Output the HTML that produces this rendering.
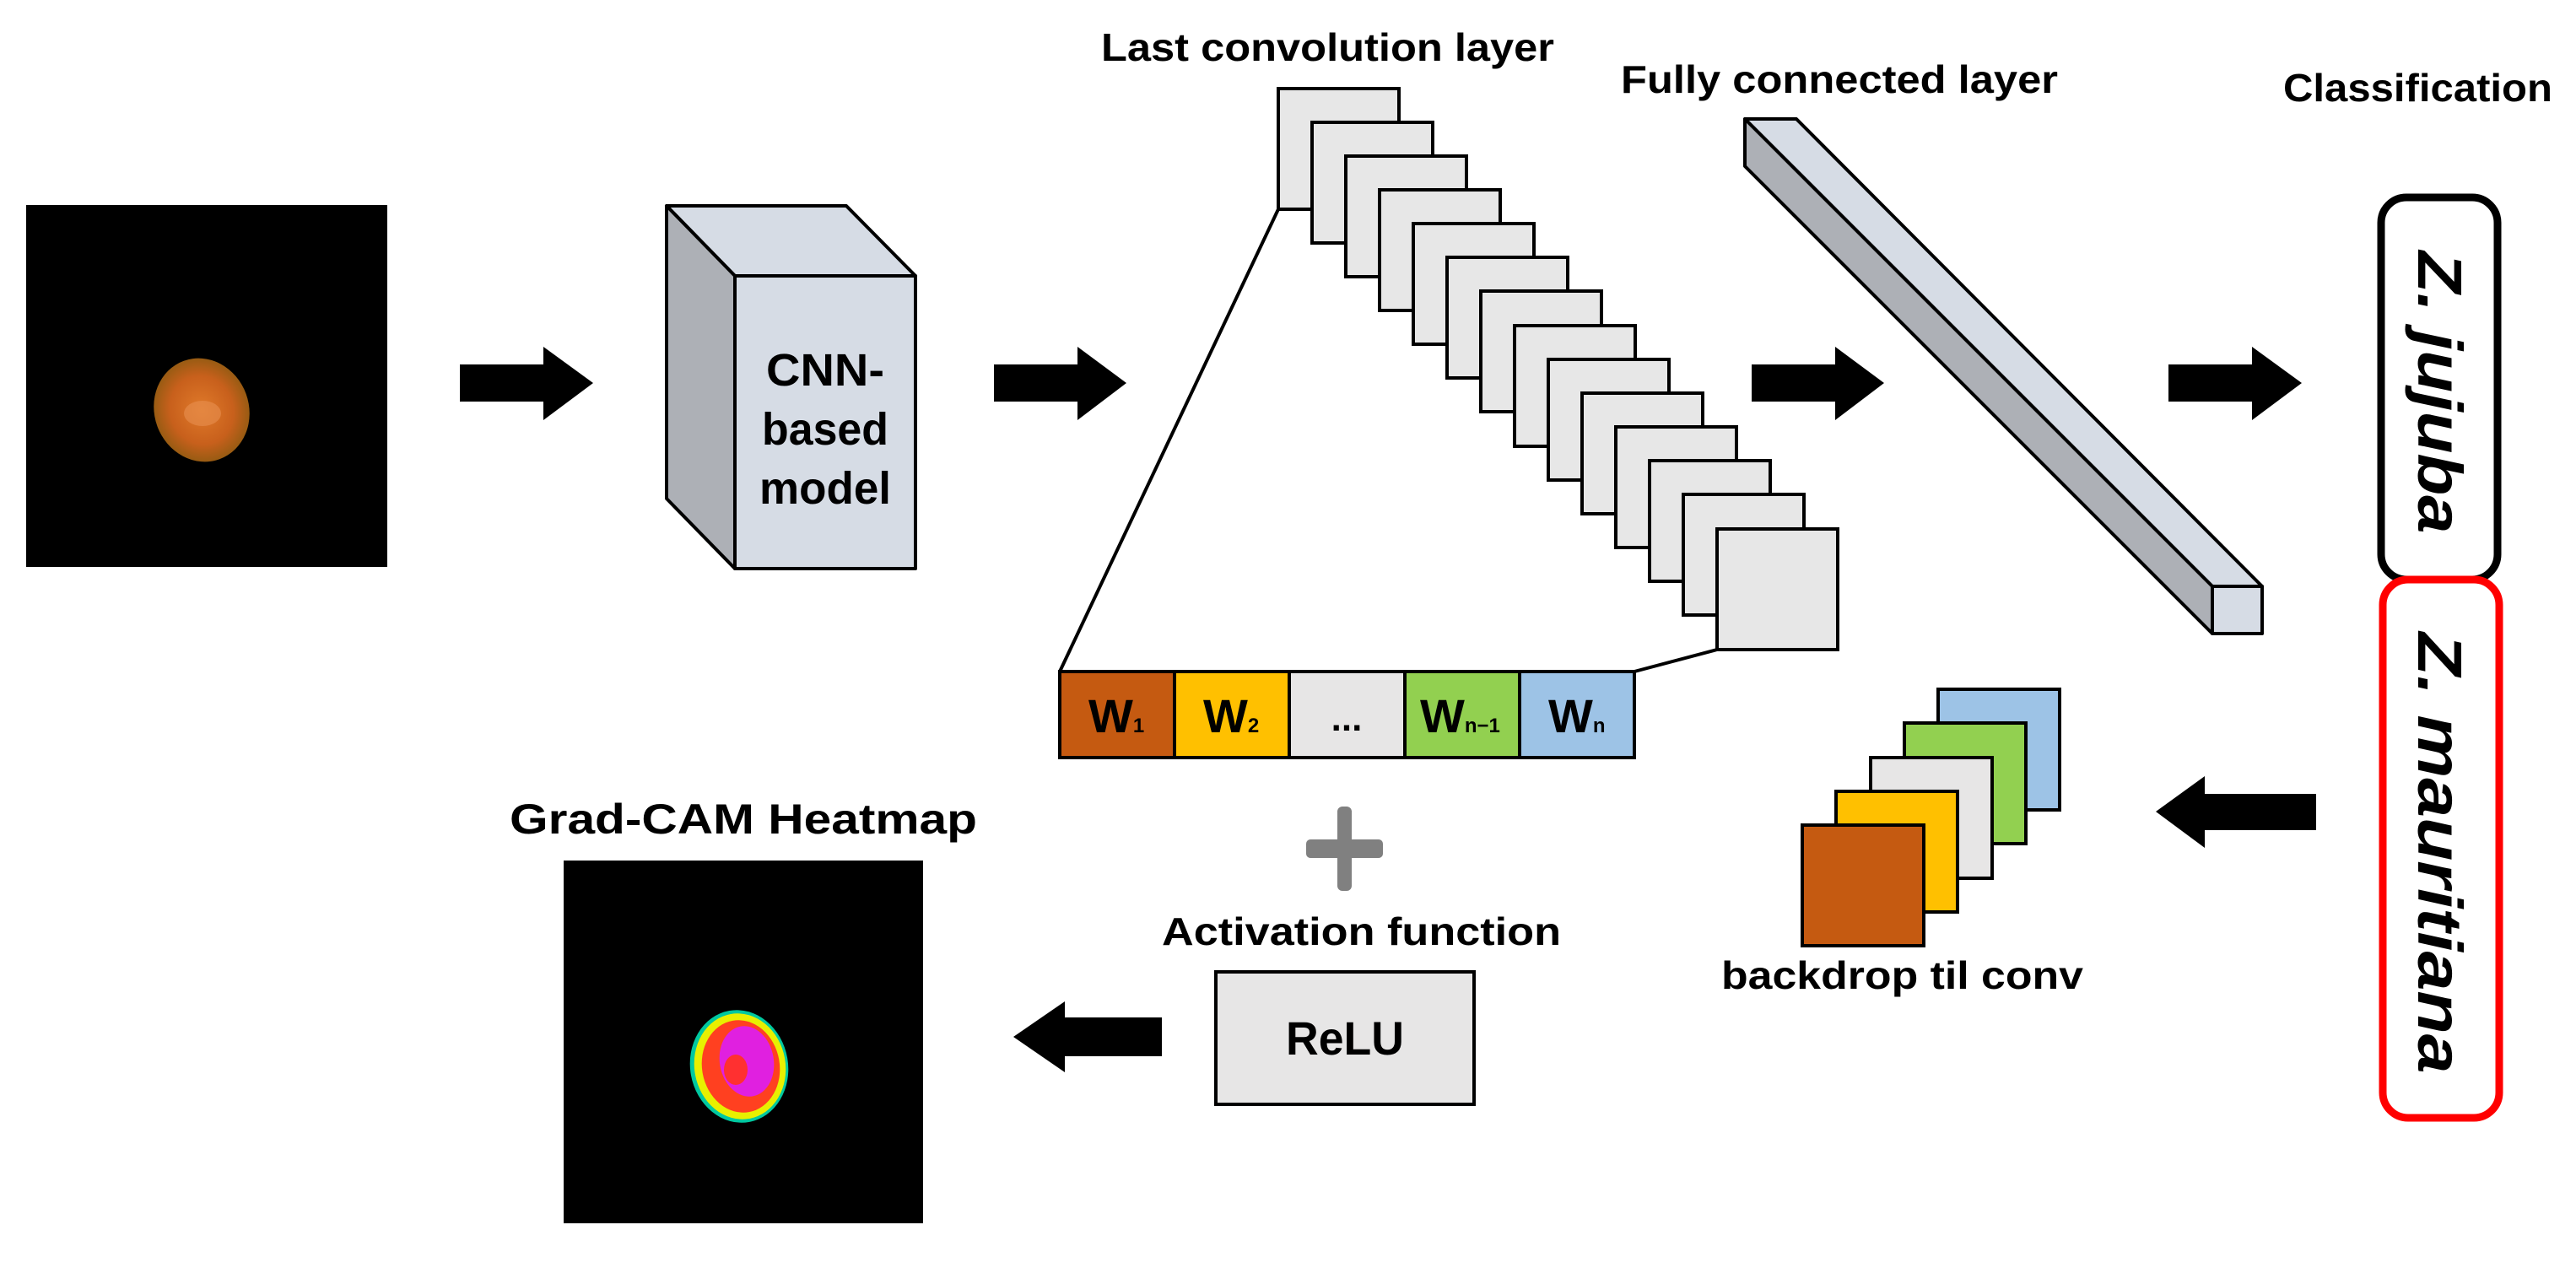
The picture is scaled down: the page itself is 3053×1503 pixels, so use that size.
<!DOCTYPE html>
<html><head><meta charset="utf-8"><style>
html,body{margin:0;padding:0;background:#fff;}
svg{display:block;}
text{font-family:"Liberation Sans",sans-serif;font-weight:bold;fill:#000;}
</style></head><body>
<svg width="3053" height="1503" viewBox="0 0 3053 1503" xmlns="http://www.w3.org/2000/svg">
<defs>
<radialGradient id="seed" cx="50%" cy="50%" r="55%">
<stop offset="0" stop-color="#E07A2A"/><stop offset="0.6" stop-color="#C8601C"/><stop offset="1" stop-color="#8A5A10"/>
</radialGradient>
</defs>
<rect x="31" y="243" width="428" height="429" fill="#000"/>
<ellipse cx="239" cy="486" rx="62" ry="56" transform="rotate(70 239 486)" fill="url(#seed)"/>
<ellipse cx="240" cy="490" rx="22" ry="15" fill="#E89050" opacity="0.6"/>

<g fill="#000">
<polygon points="545,432 644,432 644,411 703,454 644,498 644,476 545,476"/>
<polygon points="1178,432 1277,432 1277,411 1335,454 1277,498 1277,476 1178,476"/>
<polygon points="2076,432 2175,432 2175,411 2233,454 2175,498 2175,476 2076,476"/>
<polygon points="2570,432 2669,432 2669,411 2728,454 2669,498 2669,476 2570,476"/>
<polygon points="1201,1229 1262,1187 1262,1206 1377,1206 1377,1252 1262,1252 1262,1271"/>
<polygon points="2555,962 2613,920 2613,941 2745,941 2745,984 2613,984 2613,1005"/>
</g>

<g stroke="#000" stroke-width="4" stroke-linejoin="round">
<polygon points="790,244 1003,244 1085,327 871,327" fill="#D6DCE5"/>
<polygon points="790,244 871,327 871,674 790,591" fill="#ADB0B6"/>
<rect x="871" y="327" width="214" height="347" fill="#D6DCE5"/>
</g>
<text x="978" y="457" font-size="54" text-anchor="middle" textLength="140" lengthAdjust="spacingAndGlyphs">CNN-</text>
<text x="978" y="527" font-size="54" text-anchor="middle" textLength="150" lengthAdjust="spacingAndGlyphs">based</text>
<text x="978" y="597" font-size="54" text-anchor="middle" textLength="156" lengthAdjust="spacingAndGlyphs">model</text>

<text x="1305" y="72" font-size="46" textLength="537" lengthAdjust="spacingAndGlyphs">Last convolution layer</text>
<text x="1921" y="110" font-size="46" textLength="518" lengthAdjust="spacingAndGlyphs">Fully connected layer</text>
<text x="2706" y="120" font-size="46" textLength="319" lengthAdjust="spacingAndGlyphs">Classification</text>

<g stroke="#000" stroke-width="4" fill="#E7E7E7">
<rect x="1515" y="105" width="143" height="143"/>
<rect x="1555" y="145" width="143" height="143"/>
<rect x="1595" y="185" width="143" height="143"/>
<rect x="1635" y="225" width="143" height="143"/>
<rect x="1675" y="265" width="143" height="143"/>
<rect x="1715" y="305" width="143" height="143"/>
<rect x="1755" y="345" width="143" height="143"/>
<rect x="1795" y="386" width="143" height="143"/>
<rect x="1835" y="426" width="143" height="143"/>
<rect x="1875" y="466" width="143" height="143"/>
<rect x="1915" y="506" width="143" height="143"/>
<rect x="1955" y="546" width="143" height="143"/>
<rect x="1995" y="586" width="143" height="143"/>
<rect x="2035" y="627" width="143" height="143"/>
</g>
<g stroke="#000" stroke-width="4" fill="none">
<line x1="1515" y1="248" x2="1256" y2="796"/>
<line x1="2035" y1="770" x2="1937" y2="796"/>
</g>

<g stroke="#000" stroke-width="4">
<rect x="1256" y="796" width="136" height="102" fill="#C55A11"/>
<rect x="1392" y="796" width="136" height="102" fill="#FFC000"/>
<rect x="1528" y="796" width="137" height="102" fill="#E7E6E6"/>
<rect x="1665" y="796" width="136" height="102" fill="#92D050"/>
<rect x="1801" y="796" width="136" height="102" fill="#9DC3E6"/>
</g>
<g font-size="56">
<text x="1290" y="868">W<tspan font-size="24">1</tspan></text>
<text x="1426" y="868">W<tspan font-size="24">2</tspan></text>
<text x="1596" y="866" text-anchor="middle" font-size="44">...</text>
<text x="1683" y="868">W<tspan font-size="24">n−1</tspan></text>
<text x="1835" y="868">W<tspan font-size="24">n</tspan></text>
</g>

<g fill="#808080">
<rect x="1585" y="956" width="17" height="100" rx="6"/>
<rect x="1548" y="995" width="91" height="22" rx="5"/>
</g>

<g stroke="#000" stroke-width="4" stroke-linejoin="round">
<polygon points="2068,141 2129,141 2681,695 2622,695" fill="#D6DCE5"/>
<polygon points="2068,141 2622,695 2622,751 2068,197" fill="#ADB0B6"/>
<rect x="2622" y="695" width="59" height="56" fill="#D6DCE5"/>
</g>

<rect x="2822" y="234" width="138" height="453" rx="30" fill="none" stroke="#000" stroke-width="9"/>
<rect x="2824" y="687" width="138" height="638" rx="30" fill="none" stroke="#FF0000" stroke-width="9"/>
<text transform="translate(2866,465) rotate(90)" font-size="74" font-style="italic" text-anchor="middle" textLength="335" lengthAdjust="spacingAndGlyphs">Z. jujuba</text>
<text transform="translate(2866,1011) rotate(90)" font-size="74" font-style="italic" text-anchor="middle" textLength="523" lengthAdjust="spacingAndGlyphs">Z. mauritiana</text>

<g stroke="#000" stroke-width="4">
<rect x="2297" y="817" width="144" height="143" fill="#9DC3E6"/>
<rect x="2257" y="857" width="144" height="143" fill="#92D050"/>
<rect x="2217" y="898" width="144" height="143" fill="#E7E6E6"/>
<rect x="2176" y="938" width="144" height="143" fill="#FFC000"/>
<rect x="2136" y="978" width="144" height="143" fill="#C55A11"/>
</g>
<text x="2040" y="1172" font-size="46" textLength="429" lengthAdjust="spacingAndGlyphs">backdrop til conv</text>

<text x="1377" y="1120" font-size="46" textLength="473" lengthAdjust="spacingAndGlyphs">Activation function</text>
<rect x="1441" y="1152" width="306" height="157" fill="#E7E6E6" stroke="#000" stroke-width="4"/>
<text x="1594" y="1250" font-size="56" text-anchor="middle" textLength="140" lengthAdjust="spacingAndGlyphs">ReLU</text>

<text x="604" y="988" font-size="50" textLength="554" lengthAdjust="spacingAndGlyphs">Grad-CAM Heatmap</text>
<rect x="668" y="1020" width="426" height="430" fill="#000"/>
<ellipse cx="876" cy="1264" rx="58" ry="67" fill="#00C8A0" transform="rotate(-10 876 1264)"/>
<ellipse cx="877" cy="1264" rx="54" ry="63" fill="#E8F000" transform="rotate(-10 877 1264)"/>
<ellipse cx="878" cy="1264" rx="46" ry="55" fill="#FF4020" transform="rotate(-10 878 1264)"/>
<ellipse cx="885" cy="1258" rx="32" ry="42" fill="#E020E0" transform="rotate(-10 885 1258)"/>
<ellipse cx="872" cy="1268" rx="14" ry="18" fill="#FF3030"/>
</svg>
</body></html>
